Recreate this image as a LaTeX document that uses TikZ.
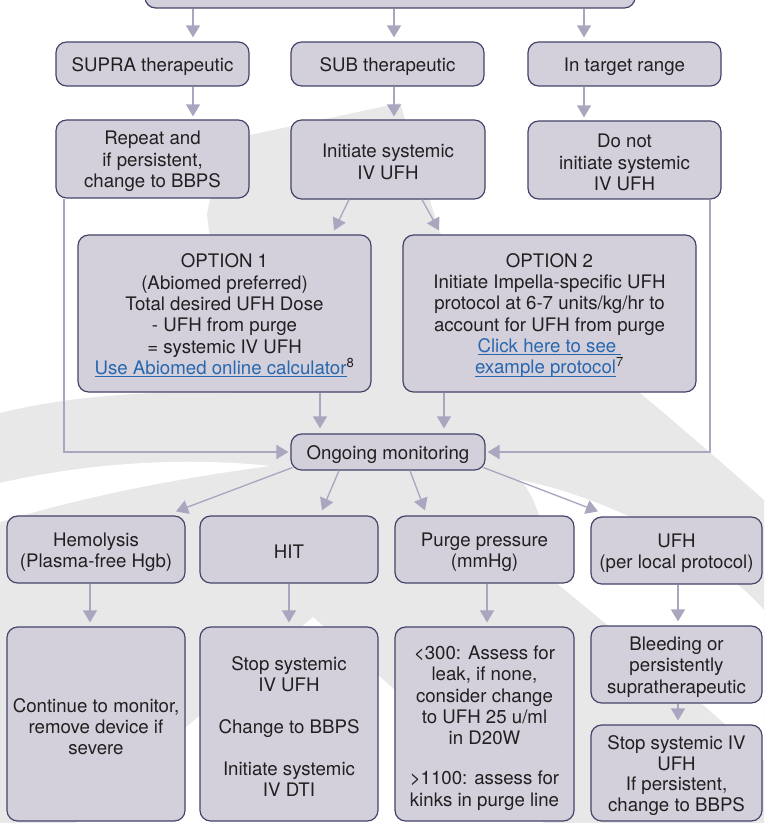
\documentclass[tikz,border=0pt]{standalone}
\usepackage{fontspec}
\setmainfont{TeX Gyre Heros}
\usetikzlibrary{arrows.meta,calc}
\definecolor{boxfill}{HTML}{D3D0DC}
\definecolor{boxdraw}{HTML}{45436A}
\definecolor{arr}{HTML}{A9A6C0}
\definecolor{wm}{HTML}{E8E8E8}
\definecolor{lnk}{HTML}{2767AE}
\definecolor{txt}{HTML}{231F20}
\newcommand\lnktext[1]{{\color{lnk}\setbox0\hbox{#1}\rlap{\rule[-2.1pt]{\wd0}{0.7pt}}\box0}}
\begin{document}
\begin{tikzpicture}[x=0.75pt,y=-0.75pt,
  box/.style={draw=boxdraw, fill=boxfill, line width=0.9pt, rounded corners=8pt, inner sep=0pt},
  lbl/.style={align=center, inner sep=0pt, text=txt, font=\fontsize{14}{16}\selectfont},
  sz/.style 2 args={minimum width=#1*0.75pt, minimum height=#2*0.75pt},
  conn/.style={draw=arr, line width=1pt, -{Triangle[width=10.5pt,length=9pt]}}]
\useasboundingbox (0,0) rectangle (764,823);
% watermark
\fill[wm] (250,135) -- (400,103) -- (440,233) .. controls (540,310) and (640,390) .. (764,500)
  -- (764,823) -- (0,823) -- (0,413) .. controls (60,398) and (140,390) .. (230,393)
  -- (207,215) .. controls (212,180) and (228,152) .. (250,135) -- cycle;
\fill[white] (0,483) .. controls (100,460) and (200,458) .. (270,466)
  .. controls (180,478) and (90,495) .. (0,522) -- cycle;
\fill[white] (313,617) -- (544,823) -- (76,823) -- cycle;
\fill[white] (520,480) .. controls (620,500) and (720,560) .. (764,610) -- (764,760)
  .. controls (700,700) and (640,650) .. (610,627) -- (553,580)
  .. controls (545,540) and (540,500) .. (520,480) -- cycle;
% boxes
\node[box, sz={490}{56}] (top) at (390,-20) {};
\node[box, sz={193}{44}] (supra) at (152.5,64) {};
\node[box, sz={193}{44}] (sub) at (387.5,64) {};
\node[box, sz={193}{44}] (target) at (624.5,64) {};
\node[box, sz={193}{78}] (repeat) at (152.5,159) {};
\node[box, sz={194}{79}] (initiate) at (388,159.5) {};
\node[box, sz={193}{78}] (donot) at (624.5,160) {};
\node[box, sz={293}{157}] (opt1) at (224.5,313.5) {};
\node[box, sz={293}{157}] (opt2) at (549.5,313.5) {};
\node[box, sz={194}{36}] (ongoing) at (388,452) {};
\node[box, sz={178}{67}] (hemo) at (96,549.5) {};
\node[box, sz={178}{67}] (hit) at (289,549.5) {};
\node[box, sz={179}{67}] (purge) at (484.5,549.5) {};
\node[box, sz={171}{67}] (ufh) at (676.5,550.5) {};
\node[box, sz={178}{194}] (cont) at (96,724) {};
\node[box, sz={178}{194}] (stopiv) at (289,724) {};
\node[box, sz={179}{194}] (purgeb) at (484.5,724) {};
\node[box, sz={171}{77}] (bleed) at (676.5,664.5) {};
\node[box, sz={171}{96}] (stopsys) at (676.5,773) {};
% texts
\node[lbl] (supraT) at ($(supra)+(0,2.5)$) {SUPRA therapeutic};
\node[lbl] (subT) at ($(sub)+(0,2.5)$) {SUB therapeutic};
\node[lbl] (targetT) at ($(target)+(0,2.5)$) {In target range};
\node[lbl] (repeatT) at ($(repeat)+(0,2.5)$) {Repeat and\\if persistent,\\change to BBPS};
\node[lbl] (initiateT) at ($(initiate)+(0,2.5)$) {Initiate systemic\\IV UFH};
\node[lbl] (donotT) at ($(donot)+(0,2.5)$) {Do not\\initiate systemic\\IV UFH};
\node[lbl] (opt1T) at ($(opt1)+(0,2)$) {OPTION 1\\(Abiomed preferred)\\Total desired UFH Dose\\- UFH from purge\\= systemic IV UFH\\\lnktext{Use Abiomed online calculator}\textsuperscript{8}};
\node[lbl] (opt2T) at ($(opt2)+(0,2)$) {OPTION 2\\Initiate Impella-specific UFH\\protocol at 6-7 units/kg/hr to\\account for UFH from purge\\\lnktext{Click here to see\kern3.9pt}\\\lnktext{example protocol}\textsuperscript{7}};
\node[lbl] (ongoingT) at ($(ongoing)+(0,2.5)$) {Ongoing monitoring};
\node[lbl] (hemoT) at ($(hemo)+(0,2.5)$) {Hemolysis\\(Plasma-free Hgb)};
\node[lbl] (hitT) at ($(hit)+(0,2.5)$) {HIT};
\node[lbl] (purgeT) at ($(purge)+(0,2.5)$) {Purge pressure\\(mmHg)};
\node[lbl] (ufhT) at ($(ufh)+(0,2.5)$) {UFH\\(per local protocol)};
\node[lbl] (contT) at ($(cont)+(0,2.5)$) {Continue to monitor,\\remove device if\\severe};
\node[lbl] (stopivT) at ($(stopiv)+(0,2.5)$) {Stop systemic\\IV UFH\\[15.5pt]Change to BBPS\\[15.5pt]Initiate systemic\\IV DTI};
\node[lbl] (purgebT) at ($(purgeb)+(0,4)$) {<300: Assess for\\leak, if none,\\consider change\\to UFH 25 u/ml\\in D20W\\[14pt]>1100: assess for\\kinks in purge line};
\node[lbl] (bleedT) at ($(bleed)+(0,2.5)$) {Bleeding or\\persistently\\supratherapeutic};
\node[lbl, font=\fontsize{14}{15.5}\selectfont] (stopsysT) at ($(stopsys)+(0,2.5)$) {Stop systemic IV\\UFH\\If persistent,\\change to BBPS};
% connectors
\draw[conn] ($(top.south)+(-197,0)$) -- ($(supra.north)+(40.5,-4)$);
\draw[conn] ($(top.south)+(4,0)$) -- ($(sub.north)+(6.5,-4)$);
\draw[conn] ($(top.south)+(194,0)$) -- ($(target.north)+(-40.5,-4)$);
\draw[conn] ($(supra.south)+(40.5,0)$) -- ($(repeat.north)+(40.5,-3)$);
\draw[conn] ($(sub.south)+(6.5,0)$) -- ($(initiate.north)+(6,-3)$);
\draw[conn] ($(target.south)+(-40.5,0)$) -- ($(donot.north)+(-40.5,-3)$);
\draw[conn] ($(initiate.south)+(-39,0)$) -- ($(opt1.north)+(109.5,-4)$);
\draw[conn] ($(initiate.south)+(34,0)$) -- ($(opt2.north)+(-110.5,-4)$);
\draw[conn] ($(opt1.south)+(95.5,0)$) -- ($(ongoing.north)+(-68,-5)$);
\draw[conn] ($(opt2.south)+(-105.5,0)$) -- ($(ongoing.north)+(56,-5)$);
\draw[conn] ($(repeat.south)+(-88.5,0)$) |- ($(ongoing.west)+(-2,0)$);
\draw[conn] ($(donot.south)+(85.5,0)$) |- ($(ongoing.east)+(2,0)$);
\draw[conn] ($(ongoing.south west)+(2,-3)$) -- ($(hemo.north)+(80,-4)$);
\draw[conn] ($(ongoing.south)+(-49,0)$) -- ($(hit.north)+(33,-5)$);
\draw[conn] ($(ongoing.south)+(22,0)$) -- ($(purge.north)+(-59.5,-5)$);
\draw[conn] ($(ongoing.south east)+(-2,-3)$) -- ($(ufh.north)+(-78.5,-5)$);
\draw[conn] ($(hemo.south)+(-6,0)$) -- ($(cont.north)+(-6,-4)$);
\draw[conn] (hit.south) -- ($(stopiv.north)+(0,-4)$);
\draw[conn] ($(purge.south)+(2.5,0)$) -- ($(purgeb.north)+(2.5,-4)$);
\draw[conn] ($(ufh.south)+(1.5,0)$) -- ($(bleed.north)+(1.5,-4)$);
\draw[conn] ($(bleed.south)+(1.5,0)$) -- ($(stopsys.north)+(1.5,-4)$);
\end{tikzpicture}
\end{document}
